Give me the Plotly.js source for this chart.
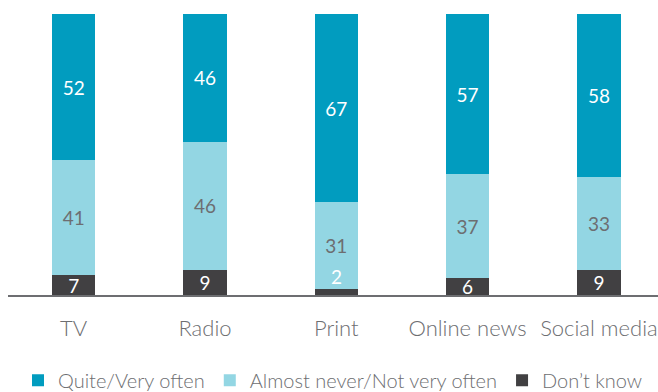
<!DOCTYPE html>
<html><head><meta charset="utf-8">
<script src="https://cdn.plot.ly/plotly-3.0.1.min.js"></script>
<style>html,body{margin:0;padding:0;background:#fff}#c{width:658px;height:392px}</style>
</head><body><div id="c"></div>
<script>
const categories = ["TV", "Radio", "Print", "Online news", "Social media"];
const often = [52, 46, 67, 57, 58];
const never = [41, 46, 31, 37, 33];
const dontKnow = [7, 9, 2, 6, 9];
const seriesNames = ["Quite/Very often", "Almost never/Not very often", "Don\u2019t know"];

const cTeal = "#019cbf", cLight = "#93d6e3", cDark = "#414042", cGray = "#6d6e71";
const font = "Lato, 'Open Sans', sans-serif";

const small = v => v < 4;
const traces = [
  {name: seriesNames[2], x: categories, y: dontKnow, marker:{color:cDark},
   text: dontKnow.map(v => small(v) ? "" : String(v)), textfont:{color:"#fff", size:19, family:font}},
  {name: seriesNames[1], x: categories, y: never, marker:{color:cLight},
   text: never.map(String), textfont:{color:cGray, size:19, family:font}},
  {name: seriesNames[0], x: categories, y: often, marker:{color:cTeal},
   text: often.map(String), textfont:{color:"#fff", size:19, family:font}}
].map(t => Object.assign(t, {type:"bar", textposition:"inside", insidetextanchor:"middle",
  textangle:0, constraintext:"none", hoverinfo:"skip", texttemplate:"%{text}"}));

const annotations = [];
dontKnow.forEach((v, i) => {
  if (small(v)) {
    const tot = often[i] + never[i] + v;
    annotations.push({x: categories[i], y: (v / tot) * 100, yanchor:"bottom", yshift:-1,
      text: String(v), showarrow:false, font:{color:"#fff", size:19, family:font}});
  }
});

const layout = {
  width:658, height:392, margin:{l:8, r:0, t:14, b:97, autoexpand:false},
  paper_bgcolor:"#fff", plot_bgcolor:"#fff",
  barmode:"stack", barnorm:"percent", bargap:0.67,
  font:{family:font, color:cGray},
  xaxis:{range:[-0.5, 4.45], showline:true, linecolor:"#6d6e71", linewidth:2, showgrid:false,
    ticks:"outside", ticklen:13, tickcolor:"rgba(0,0,0,0)", tickfont:{size:22, color:cGray, family:font, weight:300}},
  yaxis:{range:[0,100], visible:false, showgrid:false, zeroline:false},
  legend:{orientation:"h", x:0.5, xanchor:"center", yref:"container", y:0.03, yanchor:"middle",
    traceorder:"reversed", font:{size:20, color:cGray, family:font, weight:300}},
  annotations: annotations,
  showlegend:true
};
Plotly.newPlot("c", traces, layout, {staticPlot:true, displayModeBar:false});
</script></body></html>
